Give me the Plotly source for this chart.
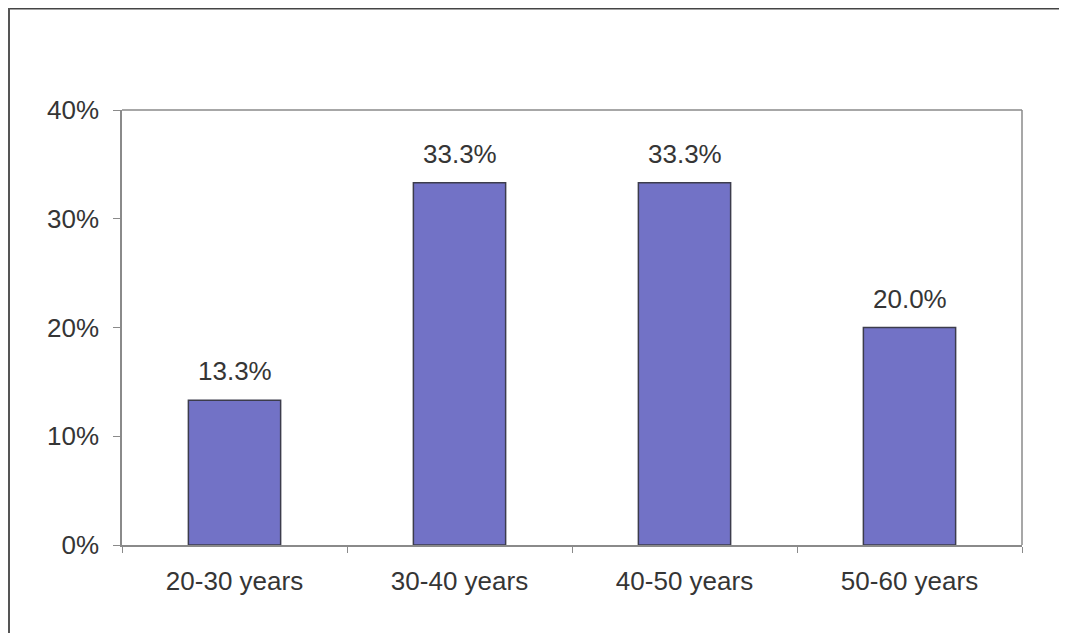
import plotly.graph_objects as go

categories = ["20-30 years", "30-40 years", "40-50 years", "50-60 years"]
values = [13.3, 33.3, 33.3, 20.0]
labels = ["13.3%", "33.3%", "33.3%", "20.0%"]
y_ticks = [0, 10, 20, 30, 40]
y_tick_labels = ["0%", "10%", "20%", "30%", "40%"]

# page body has an 8px offset, so the figure is slightly smaller
W, H = 1059, 625
L, R, T, B = 114, 45, 102, 88
pw, ph = W - L - R, H - T - B
FONT = "Liberation Sans, Arial"
TXT = "#353535"
FS = 26

def px_x(x):
    return (x - L) / pw

def px_y(y):
    return (H - B - y) / ph

fig = go.Figure(go.Bar(
    x=categories, y=values,
    marker=dict(color="#7272c6", line=dict(color="#3c3c4c", width=1.5)),
    width=0.41,
))

for c, v, t in zip(categories, values, labels):
    fig.add_annotation(x=c, y=v, text=t, showarrow=False, yanchor="bottom",
                       yshift=12, font=dict(family=FONT, size=FS, color=TXT))

fig.update_layout(
    width=W, height=H,
    margin=dict(l=L, r=R, t=T, b=B),
    paper_bgcolor="white", plot_bgcolor="white",
    showlegend=False,
    font=dict(family=FONT, size=FS, color=TXT),
    xaxis=dict(
        showline=True, linecolor="#8a8a8a", linewidth=1.5,
        ticks="outside", tickson="boundaries", ticklen=6, tickcolor="#8a8a8a",
        showgrid=False, ticklabelstandoff=12,
        tickfont=dict(size=FS, color=TXT),
    ),
    yaxis=dict(
        range=[0, 40], tickvals=y_ticks, ticktext=y_tick_labels,
        showline=True, linecolor="#8a8a8a", linewidth=1.5,
        ticks="outside", ticklen=7, tickcolor="#8a8a8a",
        showgrid=False, zeroline=False, ticklabelstandoff=9,
        tickfont=dict(size=FS, color=TXT),
    ),
)

# plot area top and right borders
fig.add_shape(type="line", xref="paper", yref="paper", x0=0, x1=1, y0=1, y1=1,
              line=dict(color="#8a8a8a", width=1.5))
fig.add_shape(type="line", xref="paper", yref="paper", x0=1, x1=1, y0=0, y1=1,
              line=dict(color="#8a8a8a", width=1.5))
# outer chart border (top and left)
fig.add_shape(type="line", xref="paper", yref="paper",
              x0=px_x(1), x1=px_x(W), y0=px_y(0.5), y1=px_y(0.5),
              line=dict(color="#444444", width=2))
fig.add_shape(type="line", xref="paper", yref="paper",
              x0=px_x(1), x1=px_x(1), y0=px_y(0), y1=px_y(H),
              line=dict(color="#555555", width=2))

fig.write_html("out.html")
